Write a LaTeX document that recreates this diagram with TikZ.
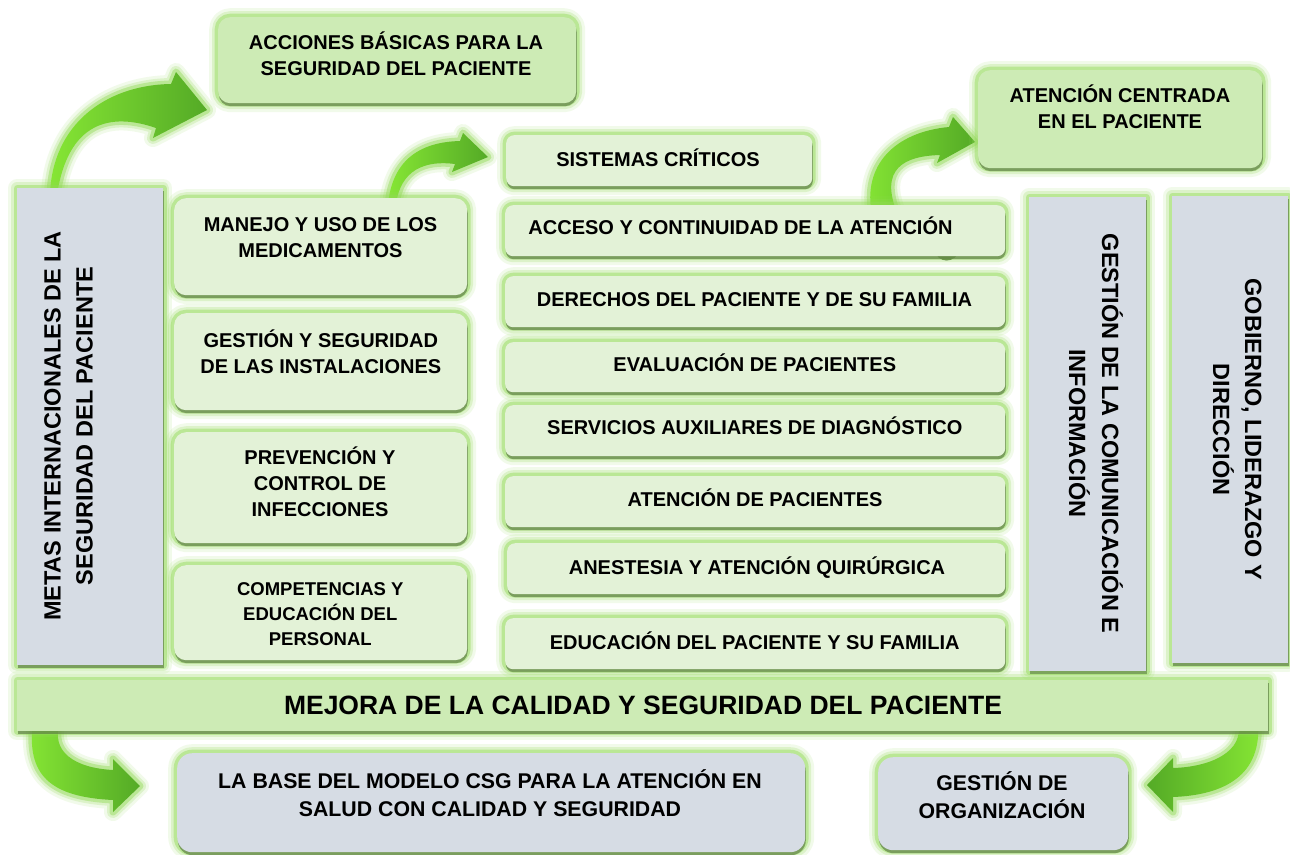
\documentclass[tikz,border=0pt]{standalone}
\usepackage{fontspec}
\setmainfont{Liberation Sans}
\usetikzlibrary{shadows}
\definecolor{gA}{RGB}{205,235,181}
\definecolor{gB}{RGB}{227,242,215}
\definecolor{gr}{RGB}{214,220,228}
\definecolor{glowc}{RGB}{146,218,86}
\definecolor{shadc}{RGB}{96,128,70}
\definecolor{arL}{RGB}{134,230,52}
\definecolor{arR}{RGB}{84,170,38}
\definecolor{tailc}{RGB}{72,92,60}
\tikzset{
  glow/.style={preaction={draw=glowc,line width=18pt,opacity=0.12,line join=round},
               preaction={draw=glowc,line width=12pt,opacity=0.22,line join=round},
               preaction={draw=glowc,line width=7pt,opacity=0.45,line join=round}},
  shad/.style={drop shadow={shadow xshift=0.6pt,shadow yshift=-3pt,fill=shadc,opacity=0.7}},
  box/.style={glow,shad,draw=none,anchor=north west,inner sep=0pt},
  boxA/.style={box,fill=gA,rounded corners=12pt},
  boxAs/.style={box,fill=gA},
  boxB/.style={box,fill=gB,rounded corners=12pt},
  boxC/.style={box,fill=gB,rounded corners=8pt},
  boxG/.style={box,fill=gr},
  boxGr/.style={box,fill=gr,rounded corners=15pt},
  txt/.style={anchor=north,align=center,inner sep=0pt,text height=14.3pt,
              font=\bfseries\fontsize{20}{26}\selectfont},
  txtS/.style={anchor=north,align=center,inner sep=0pt,text height=13.25pt,
              font=\bfseries\fontsize{18.5}{25}\selectfont},
  txtM/.style={anchor=north,align=center,inner sep=0pt,text height=15.25pt,
              font=\bfseries\fontsize{21.3}{27.7}\selectfont},
  txtL/.style={anchor=north,align=center,inner sep=0pt,text height=19pt,
              font=\bfseries\fontsize{26.5}{30}\selectfont},
  vtxt/.style={anchor=north,align=center,inner sep=0pt,text height=16.8pt,
              font=\bfseries\fontsize{23.5}{32}\selectfont},
  arrowsty/.style={glow}
}
\begin{document}
\begin{tikzpicture}[x=1pt,y=-1pt]
\fill[white] (0,0) rectangle (1290,854);
\useasboundingbox (0,0) rectangle (1290,854);

% ---------- curved arrows (behind boxes) ----------
\path[arrowsty,left color=arL,right color=arR]
  (50,195) .. controls (52,125) and (105,85) .. (171,84) -- (176,72) -- (207,110)
  -- (153,138) -- (156,128) .. controls (110,112) and (68,122) .. (57,195) -- cycle;
\path[arrowsty,left color=arL,right color=arR]
  (388,205) .. controls (392,160) and (420,142) .. (460,141) -- (463,133) -- (488,157)
  -- (452,172) -- (455,164) .. controls (425,160) and (400,170) .. (396,205) -- cycle;
\fill[tailc] (934,250) .. controls (938,264) and (955,264) .. (960,250) -- cycle;
\path[arrowsty,left color=arL,right color=arR]
  (872,215) .. controls (862,165) and (895,132) .. (949,127) -- (953,117) -- (975,142)
  -- (937,163) -- (940,155) .. controls (905,156) and (878,168) .. (898,215) -- cycle;
\path[arrowsty,left color=arL,right color=arR]
  (33,722) .. controls (26,775) and (50,797) .. (113,800) -- (113,812) -- (140,786)
  -- (113,759) -- (113,770) .. controls (75,768) and (50,752) .. (60,722) -- cycle;
\path[arrowsty,left color=arR,right color=arL]
  (1258,722) .. controls (1262,775) and (1225,795) .. (1173,797) -- (1173,812) -- (1147,785)
  -- (1173,758) -- (1173,768) .. controls (1210,767) and (1245,752) .. (1238,722) -- cycle;

% ---------- boxes ----------
\node[boxA,minimum width=358pt,minimum height=86pt] (acciones) at (218,17) {};
\node[boxA,minimum width=284pt,minimum height=98pt] (centrada) at (978,70) {};
\node[boxC,minimum width=306pt,minimum height=51pt] (sistemas) at (506,135) {};
\node[boxG,minimum width=146pt,minimum height=477pt] (metas) at (17,188) {};
\node[boxB,minimum width=293pt,minimum height=97pt] (manejo) at (174,198) {};
\node[boxB,minimum width=293pt,minimum height=97pt] (instal) at (174,313) {};
\node[boxB,minimum width=293pt,minimum height=111pt] (prev) at (174,432) {};
\node[boxB,minimum width=293pt,minimum height=95pt] (comp) at (174,565) {};
\node[boxC,minimum width=500pt,minimum height=51pt] (acceso) at (505,205) {};
\node[boxC,minimum width=500pt,minimum height=51pt] (derechos) at (505,276) {};
\node[boxC,minimum width=500pt,minimum height=50pt] (evaluacion) at (505,342) {};
\node[boxC,minimum width=500pt,minimum height=51pt] (servicios) at (505,405) {};
\node[boxC,minimum width=500pt,minimum height=51pt] (atpac) at (505,476) {};
\node[boxC,minimum width=498pt,minimum height=51pt] (anestesia) at (507,543) {};
\node[boxC,minimum width=500pt,minimum height=51pt] (educacion) at (505,618) {};
\node[boxG,minimum width=117pt,minimum height=474pt] (gcom) at (1029,197) {};
\node[boxG,minimum width=116pt,minimum height=467pt] (gob) at (1172,196) {};
\node[boxAs,minimum width=1251pt,minimum height=51pt] (mejora) at (17,680) {};
\node[boxGr,minimum width=628pt,minimum height=99pt] (base) at (177,753) {};
\node[boxGr,minimum width=250pt,minimum height=93pt] (gorg) at (878,757) {};

% ---------- texts (multi-line: anchor at top of last line) ----------
\node[txt] (tacc) at (396,61) {ACCIONES BÁSICAS PARA LA\\SEGURIDAD DEL PACIENTE};
\node[txt] (tcen) at (1120,114) {ATENCIÓN CENTRADA\\EN EL PACIENTE};
\node[txt] (tsis) at (658,152) {SISTEMAS CRÍTICOS};
\node[txt] (tman) at (320.5,242.7) {MANEJO Y USO DE LOS\\MEDICAMENTOS};
\node[txt] (tins) at (320.8,359.3) {GESTIÓN Y SEGURIDAD\\DE LAS INSTALACIONES};
\node[txt] (tpre) at (320,502) {PREVENCIÓN Y\\CONTROL DE\\INFECCIONES};
\node[txtS] (tcom) at (320.3,631.7) {COMPETENCIAS Y\\EDUCACIÓN DEL\\PERSONAL};
\node[txt] (tacs) at (740.5,220) {ACCESO Y CONTINUIDAD DE LA ATENCIÓN};
\node[txt] (tder) at (754.5,291.7) {DERECHOS DEL PACIENTE Y DE SU FAMILIA};
\node[txt] (teva) at (754.8,357.3) {EVALUACIÓN DE PACIENTES};
\node[txt] (tser) at (754.8,420) {SERVICIOS AUXILIARES DE DIAGNÓSTICO};
\node[txt] (tatp) at (755,491.7) {ATENCIÓN DE PACIENTES};
\node[txt] (tane) at (757,560) {ANESTESIA Y ATENCIÓN QUIRÚRGICA};
\node[txt] (tedu) at (754.7,635) {EDUCACIÓN DEL PACIENTE Y SU FAMILIA};
\node[txtL] (tmej) at (643,695) {MEJORA DE LA CALIDAD Y SEGURIDAD DEL PACIENTE};
\node[txtM] (tbas) at (490,801) {LA BASE DEL MODELO CSG PARA LA ATENCIÓN EN\\SALUD CON CALIDAD Y SEGURIDAD};
\node[txtM] (tgor) at (1002,802.7) {GESTIÓN DE\\ORGANIZACIÓN};
\node[vtxt,rotate=90] (tmet) at (75.5,426) {METAS INTERNACIONALES DE LA\\SEGURIDAD DEL PACIENTE};
\node[vtxt,rotate=-90,font=\bfseries\fontsize{23.5}{33}\selectfont] (tgcm) at (1086,433.5) {GESTIÓN DE LA COMUNICACIÓN E\\INFORMACIÓN};
\node[vtxt,rotate=-90] (tgob) at (1230,429.5) {GOBIERNO, LIDERAZGO Y\\DIRECCIÓN};
\end{tikzpicture}
\end{document}
